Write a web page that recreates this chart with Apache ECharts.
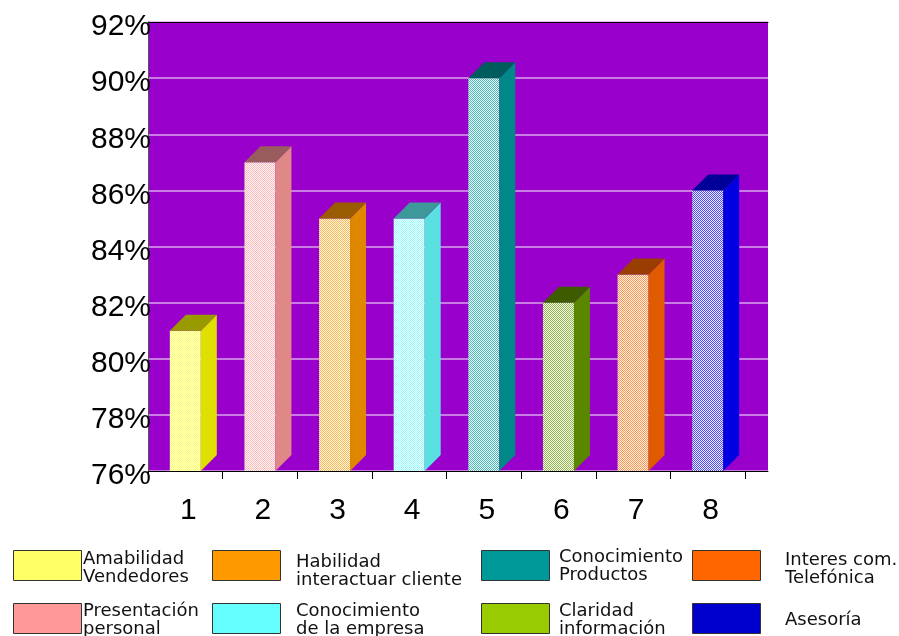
<!DOCTYPE html>
<html>
<head>
<meta charset="utf-8">
<script src="https://cdn.jsdelivr.net/npm/echarts@6/dist/echarts.min.js"></script>
<style>
  html, body { margin: 0; padding: 0; background: #ffffff; }
  #chart { width: 899px; height: 636px; }
</style>
</head>
<body>
<div id="chart"></div>
<script>
// Survey scores per item (percent)
const categories = ['1', '2', '3', '4', '5', '6', '7', '8'];
const scores = [81, 87, 85, 85, 90, 82, 83, 86];
const barColors = ['#FFFF00', '#FF9999', '#FF9900', '#66FFFF', '#009999', '#669900', '#FF6600', '#0000FF'];

// Legend entries, row by row
const legendNames = [
  'Amabilidad\nVendedores', 'Habilidad\ninteractuar cliente', 'Conocimiento\nProductos', 'Interes com.\nTelefónica',
  'Presentación\npersonal', 'Conocimiento\nde la empresa', 'Claridad\ninformación', 'Asesoría'
];
const legendColors = ['#FFFF66', '#FF9900', '#009999', '#FF6600', '#FF9999', '#66FFFF', '#99CC00', '#0000CC'];

// Value axis range
const yMin = 76, yMax = 92, yStep = 2;

const chart = echarts.init(document.getElementById('chart'), null, { renderer: 'canvas' });

function rgbOf(hex) {
  const n = parseInt(hex.slice(1), 16);
  return [(n >> 16) & 255, (n >> 8) & 255, n & 255];
}
function shade(hex, f) {
  const c = rgbOf(hex).map(function (v) { return Math.round(v * f); });
  return 'rgb(' + c.join(',') + ')';
}
function tint(hex, t) {
  return rgbOf(hex).map(function (v) { return Math.round(v + (255 - v) * t); });
}

// Fine checker of the bar colour and near-white for the front faces
function checker(hex) {
  const size = 4;
  const c = document.createElement('canvas');
  c.width = size; c.height = size;
  const ctx = c.getContext('2d');
  const img = ctx.createImageData(size, size);
  const dark = tint(hex, 0.3), light = tint(hex, 0.93);
  for (let y = 0; y < size; y++) {
    for (let x = 0; x < size; x++) {
      const p = ((x + y) % 2 === 0) ? dark : light;
      const k = (y * size + x) * 4;
      img.data[k] = p[0]; img.data[k + 1] = p[1]; img.data[k + 2] = p[2]; img.data[k + 3] = 255;
    }
  }
  ctx.putImageData(img, 0, 0);
  return { type: 'pattern', image: c, repeat: 'repeat' };
}
const frontFills = barColors.map(checker);

const DEPTH = 16;
const HALF_W = 15.5;

function renderBar(params, api) {
  const idx = api.value(0);
  const val = api.value(1);
  const top = api.coord([idx, val]);
  const base = api.coord([idx, yMin]);
  const l = top[0] - HALF_W, r = top[0] + HALF_W;
  const yt = top[1], yb = base[1];
  const c = barColors[idx];
  return {
    type: 'group',
    children: [
      { type: 'rect', shape: { x: l, y: yt, width: r - l, height: yb - yt },
        style: { fill: frontFills[idx] } },
      { type: 'polygon', shape: { points: [[r, yb], [r + DEPTH, yb - DEPTH], [r + DEPTH, yt - DEPTH], [r, yt]] },
        style: { fill: shade(c, 0.88) } },
      { type: 'polygon', shape: { points: [[l, yt], [l + DEPTH, yt - DEPTH], [r + DEPTH, yt - DEPTH], [r, yt]] },
        style: { fill: shade(c, 0.6) } }
    ]
  };
}

// Legend drawn as swatches with two-line captions
const swatchX = [13, 212, 481, 692];
const textX = [83, 296, 559, 785];
const rowY = [550, 603];
const textTop = [[550, 553.5, 548.5, 551.5], [602.5, 602.5, 602.5, 620]];
const legendGraphics = [];
legendNames.forEach(function (name, i) {
  const col = i % 4, row = Math.floor(i / 4);
  legendGraphics.push({
    type: 'rect',
    shape: { x: swatchX[col] + 0.5, y: rowY[row] + 0.5, width: 68, height: 30 },
    style: { fill: legendColors[i], stroke: '#333333', lineWidth: 1 }
  });
  const single = name.indexOf('\n') < 0;
  legendGraphics.push({
    type: 'text',
    x: textX[col],
    y: textTop[row][col],
    style: {
      text: name,
      fill: '#111111',
      font: '18px "DejaVu Sans"',
      lineHeight: 18,
      align: 'left',
      verticalAlign: single ? 'middle' : 'top'
    }
  });
});

const option = {
  backgroundColor: '#ffffff',
  animation: false,
  grid: [
    { left: 148, top: 22, width: 620, height: 449, show: true, backgroundColor: '#9900CC', borderWidth: 0 },
    { left: 148, top: 22, width: 597, height: 449 }
  ],
  xAxis: [
    { type: 'value', gridIndex: 0, position: 'top', min: 0, max: 1,
      axisLine: { show: true, lineStyle: { color: '#000000', width: 1 } },
      axisTick: { show: false }, axisLabel: { show: false }, splitLine: { show: false } },
    { type: 'category', gridIndex: 1, data: categories, boundaryGap: true,
      axisLine: { show: false },
      axisTick: { show: true, length: 8, lineStyle: { color: '#000000', width: 1 } },
      axisLabel: { show: true, margin: 25, color: '#000000', fontSize: 30,
        fontFamily: 'Liberation Sans', padding: [0, 0, 0, 6] },
      splitLine: { show: false } },
    { type: 'value', gridIndex: 0, position: 'bottom', min: 0, max: 1,
      axisLine: { show: true, onZero: false, lineStyle: { color: '#000000', width: 1 } },
      axisTick: { show: false }, axisLabel: { show: false }, splitLine: { show: false } }
  ],
  yAxis: [
    { type: 'value', gridIndex: 0, min: yMin, max: yMax, interval: yStep,
      axisLine: { show: true, lineStyle: { color: '#555555', width: 1 } },
      axisTick: { show: false },
      axisLabel: { show: true, margin: -3, color: '#000000',
        formatter: '{p|{value}%}',
        rich: { p: { fontSize: 30, fontFamily: 'Liberation Sans', color: '#000000',
          padding: [10, 0, 0, 0] } } },
      splitLine: { show: true, lineStyle: { color: '#D9A6EA', width: 1.5 } } },
    { type: 'value', gridIndex: 1, min: yMin, max: yMax, interval: yStep, show: false }
  ],
  series: [
    { type: 'custom', xAxisIndex: 1, yAxisIndex: 1, clip: false,
      renderItem: renderBar,
      data: scores.map(function (v, i) { return [i, v]; }),
      encode: { x: 0, y: 1 } }
  ],
  graphic: legendGraphics
};

chart.setOption(option);
</script>
</body>
</html>
